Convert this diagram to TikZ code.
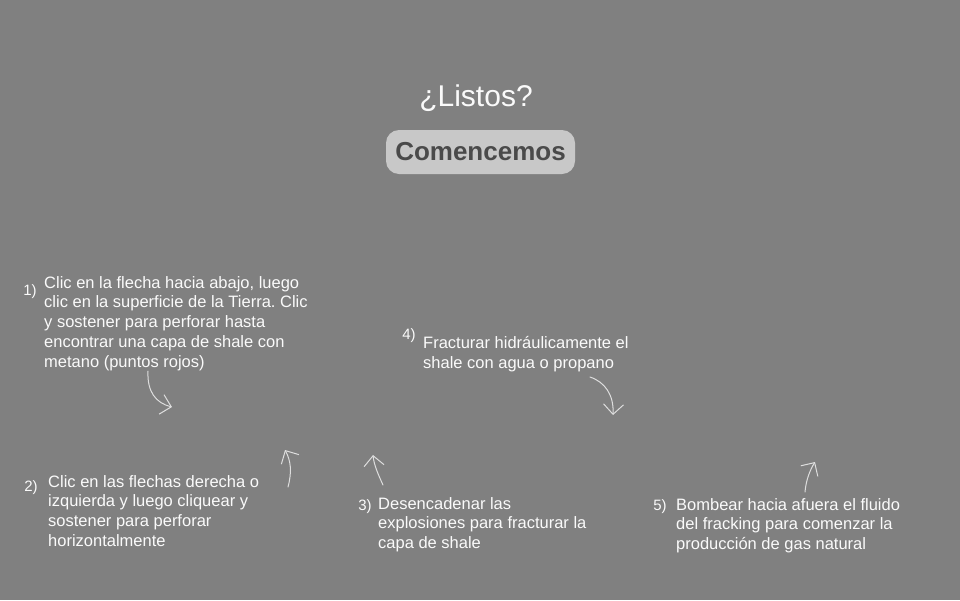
\documentclass[tikz,border=0pt]{standalone}
\usepackage{fontspec}
\setmainfont{Liberation Sans}
\usepackage{xcolor}
\usepackage{tikz}
\usetikzlibrary{arrows.meta, positioning}
\frenchspacing

\definecolor{bggray}{RGB}{128,128,128}
\definecolor{btnfill}{RGB}{200,200,200}
\definecolor{btntext}{RGB}{74,74,74}
\definecolor{chalk}{RGB}{250,250,250}
\definecolor{sketch}{RGB}{222,222,222}

\tikzset{
	steptext/.style={anchor=north west, inner sep=0pt, align=left, text=chalk, font=\fontsize{16.5}{19.8}\selectfont},
	stepnum/.style={inner sep=0pt, text=chalk, font=\fontsize{15}{17}\selectfont},
	sketcharrow/.style={draw=sketch, line width=1pt, line cap=round, -{Straight Barb[length=10pt, width=20pt, line width=1pt]}}
}

\begin{document}
\begin{tikzpicture}[x=1pt, y=-1pt]
			% Paths, nodes and wires:
			\fill[bggray] (0,0) rectangle (960,600);
			\useasboundingbox (0,0) rectangle (960,600);
			\node[text=chalk, font=\fontsize{30}{34}\selectfont, inner sep=0pt](T1) at (476,98){¿Listos?};
			\node[fill=btnfill, rounded corners=13pt, minimum width=189pt, minimum height=44pt, text=btntext, font=\bfseries\fontsize{26}{30}\selectfont, inner sep=0pt](B1) at (480.5,152){Comencemos};
			\node[stepnum](K1) at (30,292){1)};
			\node[steptext](S1) at (44,276){Clic en la flecha hacia abajo, luego\\clic en la superficie de la Tierra. Clic\\y sostener para perforar hasta\\encontrar una capa de shale con\\metano (puntos rojos)};
			\node[stepnum](K2) at (31,488){2)};
			\node[steptext](S2) at (48,475){Clic en las flechas derecha o\\izquierda y luego cliquear y\\sostener para perforar\\horizontalmente};
			\node[stepnum](K3) at (365,507){3)};
			\node[steptext](S3) at (378,497){Desencadenar las\\explosiones para fracturar la\\capa de shale};
			\node[stepnum](K4) at (409,336){4)};
			\node[steptext](S4) at (423,336){Fracturar hidráulicamente el\\shale con agua o propano};
			\node[stepnum](K5) at (660,507){5)};
			\node[steptext](S5) at (676,498){Bombear hacia afuera el fluido\\del fracking para comenzar la\\producción de gas natural};
			\coordinate (A1s) at (148,371);
			\coordinate (A1e) at (172,407);
			\coordinate (A2s) at (288,487);
			\coordinate (A2e) at (285,450);
			\coordinate (A3s) at (383,485);
			\coordinate (A3e) at (373,455);
			\coordinate (A4s) at (590,377);
			\coordinate (A4e) at (613,415);
			\coordinate (A5s) at (805,492);
			\coordinate (A5e) at (815,462);
			\draw[sketcharrow] (A1s) .. controls (147,392) and (156,403) .. (A1e);
			\draw[sketcharrow] (A2s) .. controls (292,472) and (291,461) .. (A2e);
			\draw[sketcharrow] (A3s) .. controls (378,474) and (374,465) .. (A3e);
			\draw[sketcharrow] (A4s) .. controls (605,382) and (614,395) .. (A4e);
			\draw[sketcharrow] (A5s) .. controls (806,480) and (810,470) .. (A5e);
		\end{tikzpicture}
\end{document}
